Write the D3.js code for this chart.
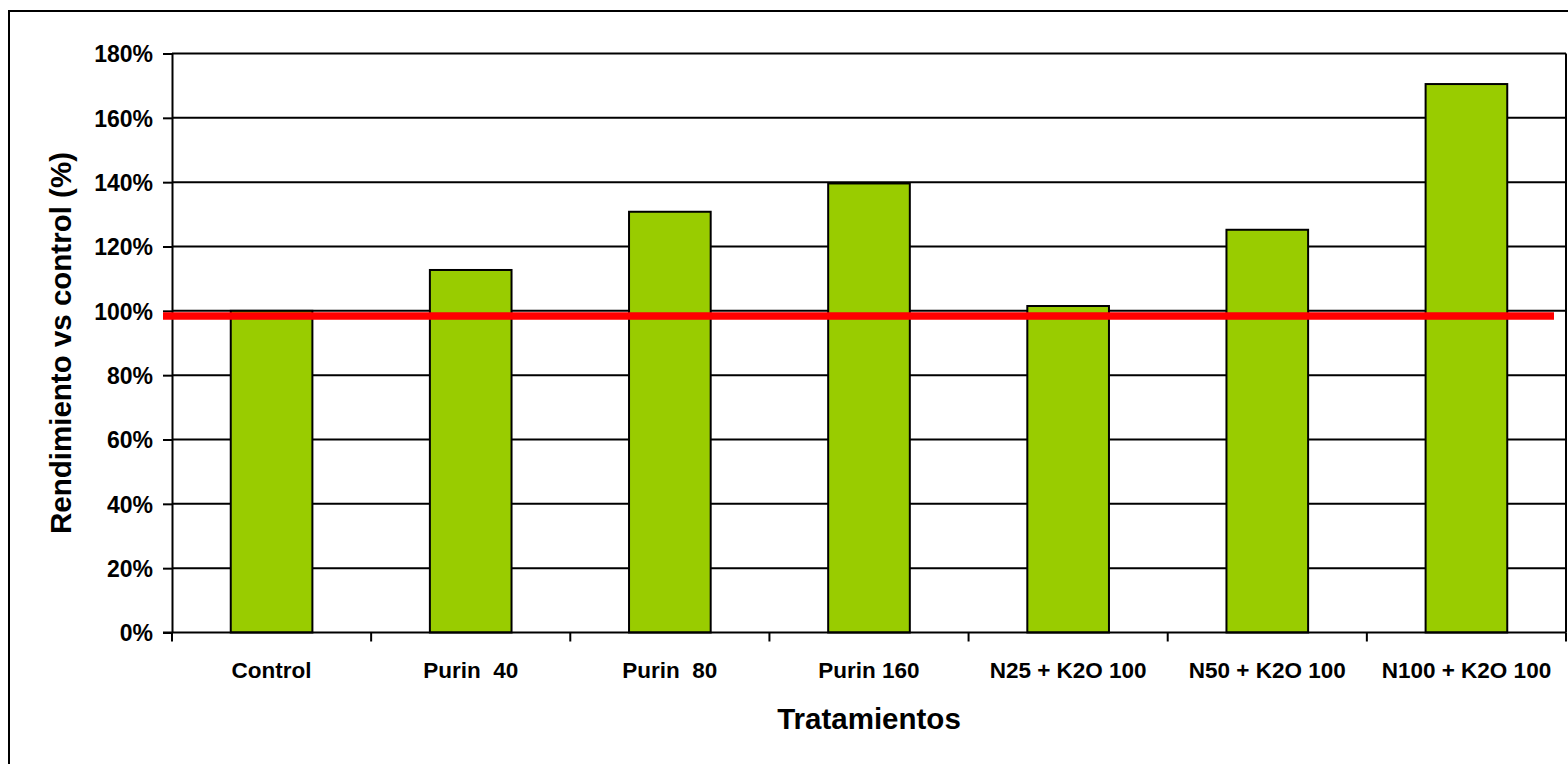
<!DOCTYPE html>
<html>
<head>
<meta charset="utf-8">
<script src="https://cdn.jsdelivr.net/npm/d3@7/dist/d3.min.js"></script>
<style>
  html, body { margin: 0; padding: 0; background: #fff; }
  svg { display: block; font-family: "Liberation Sans", Arial, sans-serif; font-weight: bold; }
  svg text { white-space: pre; }
</style>
</head>
<body>
<svg id="chart" width="1568" height="764"></svg>
<script>
// Treatments and yield relative to the control plot (%)
const categories = ["Control", "Purin  40", "Purin  80", "Purin 160", "N25 + K2O 100", "N50 + K2O 100", "N100 + K2O 100"];
const yieldPct = [100, 112.7, 130.8, 139.6, 101.5, 125.2, 170.5];
const yTicks = [0, 20, 40, 60, 80, 100, 120, 140, 160, 180];
const referenceLevel = 98.4;   // red reference line
const xTitle = "Tratamientos";
const yTitle = "Rendimiento vs control (%)";

const svg = d3.select("#chart");
const W = 1568, H = 764;
const plot = { left: 172, right: 1566, top: 53.5, bottom: 632.5 };

const x = d3.scaleBand().domain(categories).range([plot.left, plot.right]).paddingInner(0.59).paddingOuter(0.295);
const xEdges = d3.scaleLinear().domain([0, categories.length]).range([plot.left, plot.right]);
const y = d3.scaleLinear().domain([0, 180]).range([plot.bottom, plot.top]);

// Chart frame
svg.append("rect")
  .attr("x", 9).attr("y", 11).attr("width", W + 20).attr("height", H + 20)
  .attr("fill", "none").attr("stroke", "#000").attr("stroke-width", 2);

// Horizontal gridlines
svg.append("g").selectAll("line").data(yTicks.filter(d => d > 0)).join("line")
  .attr("x1", plot.left).attr("x2", plot.right)
  .attr("y1", d => y(d)).attr("y2", d => y(d))
  .attr("stroke", "#000").attr("stroke-width", 2);

// Right edge of the plot area
svg.append("line")
  .attr("x1", plot.right).attr("x2", plot.right)
  .attr("y1", y(180)).attr("y2", y(0))
  .attr("stroke", "#000").attr("stroke-width", 2);

// Bars
svg.append("g").selectAll("rect").data(categories).join("rect")
  .attr("x", d => x(d))
  .attr("y", (d, i) => y(yieldPct[i]))
  .attr("width", x.bandwidth())
  .attr("height", (d, i) => y(0) - y(yieldPct[i]))
  .attr("fill", "#99CC00")
  .attr("stroke", "#000").attr("stroke-width", 2);

// Y axis
const yAxis = svg.append("g")
  .attr("transform", `translate(${plot.left},0)`)
  .call(d3.axisLeft(y).tickValues(yTicks).tickFormat(d => d + "%").tickSizeInner(9).tickSizeOuter(0).tickPadding(10));
yAxis.select(".domain").attr("stroke", "#000").attr("stroke-width", 2);
yAxis.selectAll(".tick line").attr("stroke", "#000").attr("stroke-width", 2);
yAxis.selectAll(".tick text")
  .attr("fill", "#000").style("font-size", "23px").style("font-weight", "bold")
  .style("font-family", "'Liberation Sans', Arial, sans-serif").attr("dy", "0.36em");

// X axis: ticks at category boundaries, labels centred on each bar
const xAxis = svg.append("g").attr("transform", `translate(0,${plot.bottom})`);
xAxis.append("line")
  .attr("x1", plot.left - 9).attr("x2", plot.right)
  .attr("stroke", "#000").attr("stroke-width", 2);
xAxis.selectAll("line.edge").data(d3.range(categories.length + 1)).join("line")
  .attr("class", "edge")
  .attr("x1", d => xEdges(d)).attr("x2", d => xEdges(d))
  .attr("y1", 0).attr("y2", 9)
  .attr("stroke", "#000").attr("stroke-width", 2);
xAxis.selectAll("text").data(categories).join("text")
  .attr("x", d => x(d) + x.bandwidth() / 2)
  .attr("y", 45)
  .attr("text-anchor", "middle")
  .style("font-size", "22.5px")
  .text(d => d);

// Reference line
svg.append("line")
  .attr("x1", plot.left - 9).attr("x2", plot.right - 12)
  .attr("y1", y(referenceLevel)).attr("y2", y(referenceLevel))
  .attr("stroke", "#FF0000").attr("stroke-width", 7.5);

// Axis titles
svg.append("text")
  .attr("x", (plot.left + plot.right) / 2).attr("y", 729)
  .attr("text-anchor", "middle")
  .style("font-size", "29.5px")
  .text(xTitle);

svg.append("text")
  .attr("transform", `translate(71,${(plot.top + plot.bottom) / 2}) rotate(-90)`)
  .attr("text-anchor", "middle")
  .style("font-size", "29.5px")
  .text(yTitle);
</script>
</body>
</html>
